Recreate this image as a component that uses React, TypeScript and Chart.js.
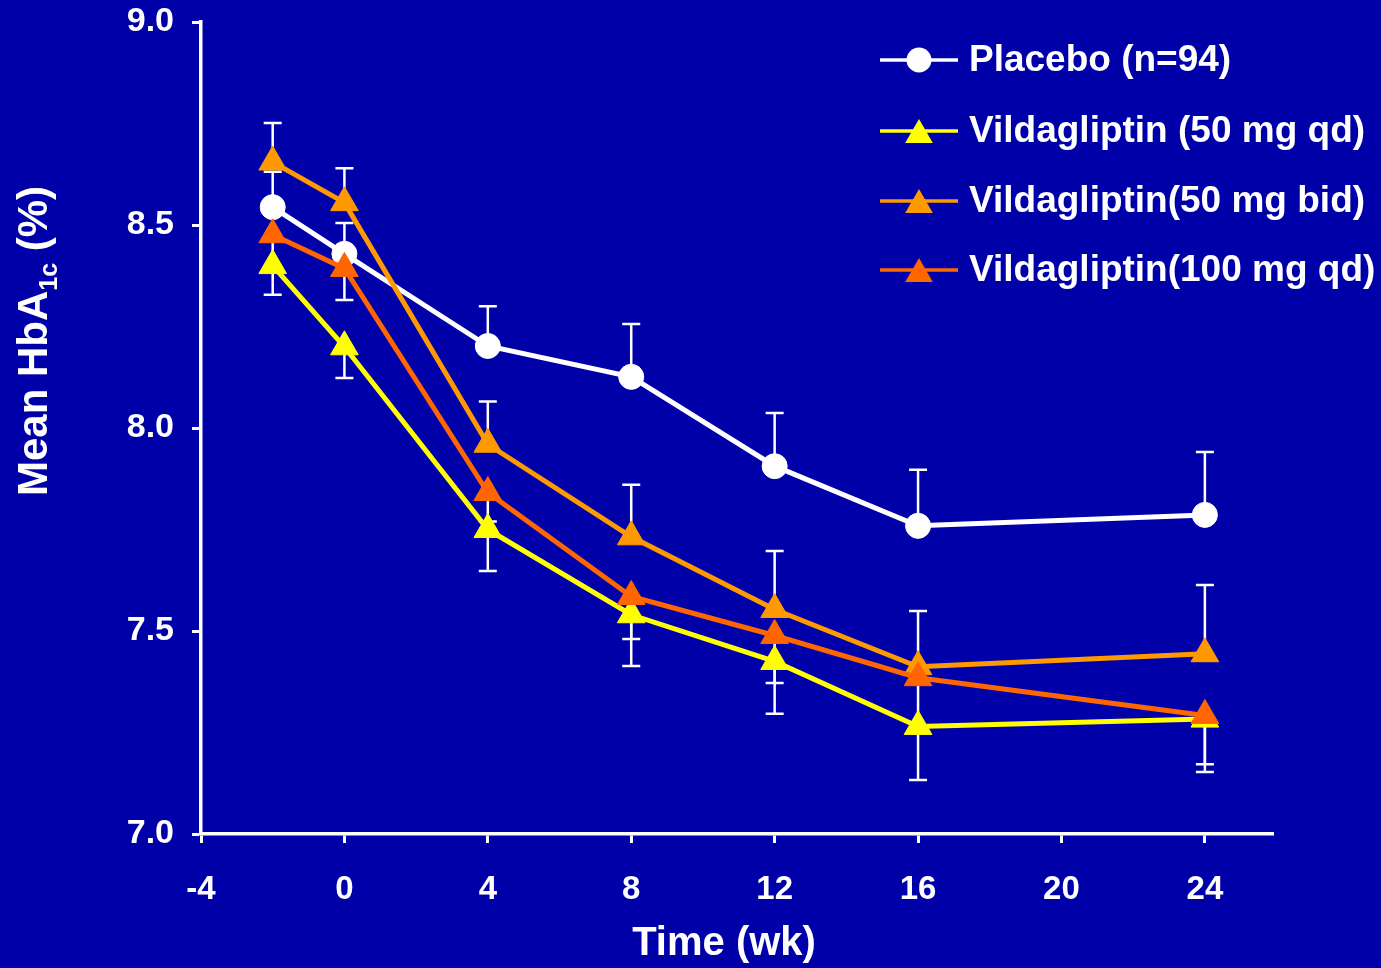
import React, { useEffect, useRef } from "react";
import { Chart, registerables } from "chart.js";

Chart.register(...registerables);

const weeks = [-2, 0, 4, 8, 12, 16, 24];
const xTickValues = [-4, 0, 4, 8, 12, 16, 20, 24];
const placebo = [8.544, 8.429, 8.202, 8.126, 7.906, 7.759, 7.786];
const vilda50qd = [8.4, 8.2, 7.75, 7.54, 7.425, 7.265, 7.283];
const vilda50bid = [8.655, 8.555, 7.96, 7.732, 7.553, 7.412, 7.444];
const vilda100qd = [8.476, 8.393, 7.841, 7.585, 7.489, 7.385, 7.292];
const placeboSE = [0.087, 0.076, 0.098, 0.13, 0.131, 0.138, 0.155];
const vilda50qdSE = [0.072, 0.077, 0.102, 0.126, 0.129, 0.132, 0.13];
const vilda50bidSE = [0.096, 0.085, 0.105, 0.128, 0.144, 0.137, 0.169];
const vilda100qdSE = [0.079, 0.078, 0.071, 0.105, 0.117, 0.125, 0.12];
const seriesLabels = [
  "Placebo (n=94)",
  "Vildagliptin (50 mg qd)",
  "Vildagliptin(50 mg bid)",
  "Vildagliptin(100 mg qd)",
];
const seriesColors = ["#FFFFFF", "#FFFF00", "#FF9900", "#FF6600"];
const seriesMarkers = ["circle", "triangle", "triangle", "triangle"];
const errDirections = [1, -1, 1, -1];

const BG = "#0000A8";
const FONT = '"Liberation Sans", Arial, sans-serif';

export default function App() {
  const ref = useRef<HTMLCanvasElement | null>(null);

  useEffect(() => {
    const canvas = ref.current;
    if (!canvas) return;
    const values = [placebo, vilda50qd, vilda50bid, vilda100qd];
    const errs = [placeboSE, vilda50qdSE, vilda50bidSE, vilda100qdSE];
    const orders = [3, 2, 1, 0];

    const datasets = values.map((vals, i) => ({
      label: seriesLabels[i],
      data: weeks.map((w, j) => ({ x: w, y: vals[j] })),
      borderColor: seriesColors[i],
      backgroundColor: seriesColors[i],
      pointBackgroundColor: seriesColors[i],
      pointBorderColor: seriesColors[i],
      pointBorderWidth: 1,
      pointStyle: seriesMarkers[i] as any,
      pointRadius: seriesMarkers[i] === "circle" ? 12.5 : 16,
      borderWidth: 5,
      tension: 0,
      order: orders[i],
    }));

    const bgPlugin = {
      id: "bg",
      beforeDraw(chart: any) {
        const { ctx, width, height } = chart;
        ctx.save();
        ctx.fillStyle = BG;
        ctx.fillRect(0, 0, width, height);
        ctx.restore();
      },
    };

    const errorBarPlugin = {
      id: "errorBars",
      beforeDatasetsDraw(chart: any) {
        const { ctx } = chart;
        const xs = chart.scales.x;
        const ys = chart.scales.y;
        ctx.save();
        ctx.strokeStyle = "#FFFFFF";
        ctx.lineWidth = 2.5;
        values.forEach((vals, i) => {
          vals.forEach((v, j) => {
            const px = xs.getPixelForValue(weeks[j]);
            const py0 = ys.getPixelForValue(v);
            const py1 = ys.getPixelForValue(v + errDirections[i] * errs[i][j]);
            ctx.beginPath();
            ctx.moveTo(px, py0);
            ctx.lineTo(px, py1);
            ctx.moveTo(px - 9, py1);
            ctx.lineTo(px + 9, py1);
            ctx.stroke();
          });
        });
        ctx.restore();
      },
    };

    const textPlugin = {
      id: "texts",
      afterDraw(chart: any) {
        const { ctx } = chart;
        ctx.save();
        ctx.fillStyle = "#FFFFFF";
        // x axis title
        ctx.font = `bold 40px ${FONT}`;
        ctx.textAlign = "center";
        ctx.textBaseline = "alphabetic";
        ctx.fillText("Time (wk)", 724, 955);

        // y axis title with subscript
        const mainFont = `bold 42px ${FONT}`;
        const subFont = `bold 25px ${FONT}`;
        const p1 = "Mean HbA";
        const p2 = "1c";
        const p3 = " (%)";
        ctx.font = mainFont;
        const w1 = ctx.measureText(p1).width;
        const w3 = ctx.measureText(p3).width;
        ctx.font = subFont;
        const w2 = ctx.measureText(p2).width;
        const total = w1 + w2 + w3;
        ctx.translate(47, 341 + total / 2);
        ctx.rotate(-Math.PI / 2);
        ctx.textAlign = "left";
        ctx.font = mainFont;
        ctx.fillText(p1, 0, 0);
        ctx.font = subFont;
        ctx.fillText(p2, w1, 10);
        ctx.font = mainFont;
        ctx.fillText(p3, w1 + w2, 0);
        ctx.restore();

        // legend
        ctx.save();
        const rows = [60, 131, 201, 270];
        seriesLabels.forEach((lab, i) => {
          const y = rows[i];
          ctx.strokeStyle = seriesColors[i];
          ctx.lineWidth = 3.5;
          ctx.beginPath();
          ctx.moveTo(880, y);
          ctx.lineTo(958, y);
          ctx.stroke();
          ctx.fillStyle = seriesColors[i];
          ctx.beginPath();
          if (seriesMarkers[i] === "circle") {
            ctx.arc(919, y, 12.5, 0, Math.PI * 2);
          } else {
            const r = 16;
            const cy = y + 4;
            ctx.moveTo(919, cy - r);
            ctx.lineTo(919 + r * Math.sin((2 * Math.PI) / 3), cy + r / 2);
            ctx.lineTo(919 - r * Math.sin((2 * Math.PI) / 3), cy + r / 2);
            ctx.closePath();
          }
          ctx.fill();
          ctx.fillStyle = "#FFFFFF";
          ctx.font = `bold 37px ${FONT}`;
          ctx.textAlign = "left";
          ctx.textBaseline = "middle";
          ctx.fillText(lab, 969, y + 1);
        });
        ctx.restore();
      },
    };

    const chart = new Chart(canvas, {
      type: "line",
      data: { datasets: datasets as any },
      options: {
        animation: false,
        responsive: false,
        maintainAspectRatio: false,
        layout: { padding: { left: 0, top: 22, right: 108, bottom: 0 } },
        plugins: {
          legend: { display: false },
          tooltip: { enabled: false },
          title: { display: false },
        },
        scales: {
          x: {
            type: "linear",
            min: -4,
            max: 25.9,
            afterFit(scale: any) {
              scale.height = 134;
              scale.paddingLeft = 0;
              scale.paddingRight = 0;
            },
            afterBuildTicks(scale: any) {
              scale.ticks = xTickValues.map((v) => ({ value: v }));
            },
            ticks: {
              color: "#FFFFFF",
              font: { family: FONT, size: 33, weight: "bold" },
              padding: 27,
              maxRotation: 0,
              autoSkip: false,
            },
            grid: {
              drawOnChartArea: false,
              drawTicks: true,
              tickLength: 9,
              tickColor: "#FFFFFF",
              tickWidth: 3,
            },
            border: { display: true, color: "#FFFFFF", width: 3.5 },
          },
          y: {
            type: "linear",
            min: 7,
            max: 9,
            afterFit(scale: any) {
              scale.width = 201;
              scale.paddingTop = 0;
              scale.paddingBottom = 0;
            },
            ticks: {
              stepSize: 0.5,
              color: "#FFFFFF",
              font: { family: FONT, size: 34, weight: "bold" },
              padding: 18,
              callback: (v: any) => Number(v).toFixed(1),
            },
            grid: {
              drawOnChartArea: false,
              drawTicks: true,
              tickLength: 9,
              tickColor: "#FFFFFF",
              tickWidth: 3,
            },
            border: { display: true, color: "#FFFFFF", width: 3.5 },
          },
        },
      },
      plugins: [bgPlugin, errorBarPlugin, textPlugin],
    });
    return () => chart.destroy();
  }, []);

  return (
    <div
      style={{
        position: "fixed",
        left: 0,
        top: 0,
        width: 1381,
        height: 968,
        background: BG,
      }}
    >
      <canvas
        ref={ref}
        width={1381}
        height={968}
        style={{ width: 1381, height: 968, display: "block" }}
      />
    </div>
  );
}
